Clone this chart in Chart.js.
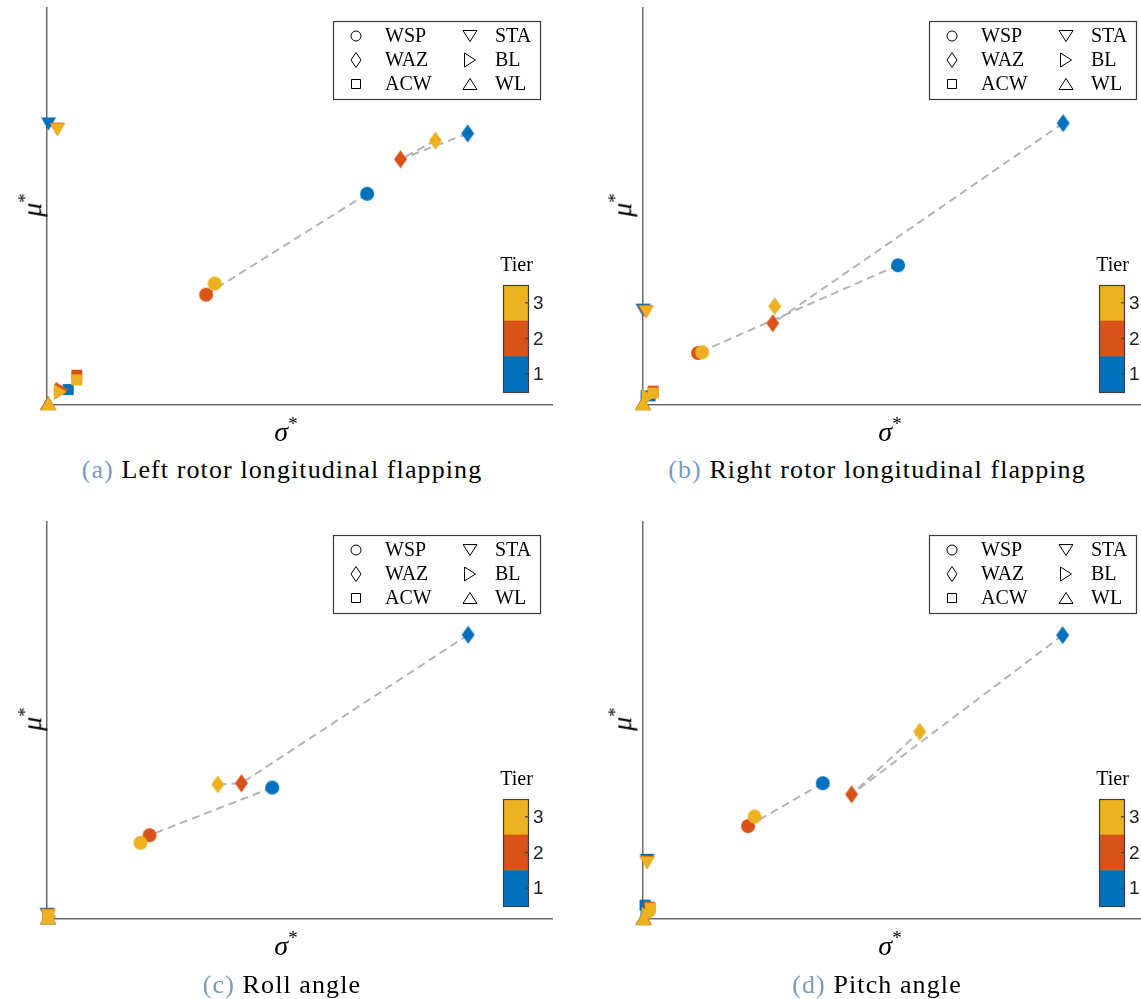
<!DOCTYPE html>
<html>
<head>
<meta charset="utf-8">
<script src="https://cdn.jsdelivr.net/npm/chart.js@4.4.1/dist/chart.umd.min.js"></script>
<style>
  html, body { margin: 0; padding: 0; background: #fff; }
  #fig { position: relative; width: 1141px; height: 999px; overflow: hidden; font-family: "Liberation Serif", serif; }
  .panel { position: absolute; width: 596px; height: 440px; }
  .caption { position: absolute; font-size: 26px; letter-spacing: 1.1px; color: #000; white-space: nowrap; transform: translate(-50%, -50%); }
  .caption .tag { color: #7a9bbb; }
  .xlab, .ylab { position: absolute; font-style: italic; font-size: 28px; white-space: nowrap; line-height: 1; }
  .xlab { transform: translate(-50%, -50%); }
  .ylab { transform: translate(-50%, -50%) rotate(-90deg); }
  .xlab sup, .ylab sup { font-style: normal; font-size: 19px; }
</style>
</head>
<body>
<div id="fig">
  <div class="panel" style="left:0;top:0"><canvas id="chartA" width="596" height="440"></canvas></div>
  <div class="panel" style="left:596px;top:0"><canvas id="chartB" width="596" height="440"></canvas></div>
  <div class="panel" style="left:0;top:514px"><canvas id="chartC" width="596" height="440"></canvas></div>
  <div class="panel" style="left:596px;top:514px"><canvas id="chartD" width="596" height="440"></canvas></div>

  <div class="ylab" style="left:31px;top:205px">μ<sup>*</sup></div>
  <div class="ylab" style="left:621px;top:205px">μ<sup>*</sup></div>
  <div class="ylab" style="left:31px;top:719px">μ<sup>*</sup></div>
  <div class="ylab" style="left:621px;top:719px">μ<sup>*</sup></div>

  <div class="xlab" style="left:286px;top:430px">σ<sup>*</sup></div>
  <div class="xlab" style="left:890px;top:430px">σ<sup>*</sup></div>
  <div class="xlab" style="left:286px;top:944px">σ<sup>*</sup></div>
  <div class="xlab" style="left:890px;top:944px">σ<sup>*</sup></div>

  <div class="caption" style="left:282px;top:470px"><span class="tag">(a)</span> Left rotor longitudinal flapping</div>
  <div class="caption" style="left:877px;top:470px"><span class="tag">(b)</span> Right rotor longitudinal flapping</div>
  <div class="caption" style="left:282px;top:985px"><span class="tag">(c)</span> Roll angle</div>
  <div class="caption" style="left:877px;top:985px"><span class="tag">(d)</span> Pitch angle</div>
</div>

<script>
// parameters and their marker shapes
const params = ['WSP', 'WAZ', 'ACW', 'STA', 'BL', 'WL'];
const shapes = ['circle', 'diamond', 'square', 'down', 'right', 'up'];
const tierLabels = ['1', '2', '3'];
const tierColors = ['#0072BD', '#D95319', '#EDB120'];

// sigma* / mu* per tier (rows = tier 1, 2, 3; columns follow params)
const leftFlapSigma = [
    [63.4, 83.3, 4.2, 0.3, 2.8, 0.2],
    [31.5, 70.0, 5.9, 2.0, 3.0, 0.2],
    [33.2, 76.9, 5.9, 2.1, 2.6, 0.3]
];
const leftFlapMu = [
    [53.2, 68.4, 3.9, 70.8, 3.5, 0.5],
    [27.8, 61.9, 7.5, 69.5, 3.8, 0.5],
    [30.6, 66.6, 6.3, 69.3, 3.3, 0.4]
];

const rightFlapSigma = [
    [50.5, 83.2, 1.4, 0.0, 0.8, 0.0],
    [10.9, 25.7, 2.0, 0.4, 1.0, 0.0],
    [11.7, 26.1, 2.0, 0.7, 1.0, 0.0]
];
const rightFlapMu = [
    [35.2, 71.0, 2.3, 23.9, 1.8, 0.5],
    [13.1, 20.6, 3.5, 23.6, 2.0, 0.5],
    [13.3, 24.9, 3.0, 23.4, 2.0, 0.4]
];

const rollSigma = [
    [44.6, 83.4, 0.3, 0.0, 0.4, 0.2],
    [20.3, 38.5, 0.3, 0.2, 0.4, 0.2],
    [18.5, 33.8, 0.3, 0.3, 0.4, 0.2]
];
const rollMu = [
    [33.1, 71.6, 0.8, 1.2, 0.6, 0.4],
    [21.1, 34.2, 0.8, 1.0, 0.6, 0.4],
    [19.2, 33.9, 0.8, 0.8, 0.6, 0.4]
];

const pitchSigma = [
    [35.6, 83.1, 0.4, 0.8, 0.8, 0.1],
    [20.8, 41.3, 1.2, 0.8, 1.0, 0.1],
    [22.1, 54.8, 1.5, 0.8, 1.0, 0.1]
];
const pitchMu = [
    [34.2, 71.5, 3.5, 14.8, 1.2, 0.3],
    [23.4, 31.4, 3.0, 14.3, 1.0, 0.2],
    [25.8, 47.2, 2.7, 14.1, 1.0, 0.2]
];

// =====================================================
// MARKERS
// =====================================================

const markerSize = { circle: [14, 14], diamond: [13, 18], square: [11, 11], down: [15, 13], right: [13, 16], up: [16, 14] };
const keySize = { circle: [10, 10], diamond: [10, 15], square: [9, 9], down: [14, 11], right: [11, 14], up: [14, 11] };

function tracePath(ctx, shape, cx, cy, w, h){
    ctx.beginPath();
    if(shape === 'circle'){
        ctx.arc(cx, cy, w / 2, 0, Math.PI * 2);
    } else if(shape === 'diamond'){
        ctx.moveTo(cx, cy - h / 2);
        ctx.lineTo(cx + w / 2, cy);
        ctx.lineTo(cx, cy + h / 2);
        ctx.lineTo(cx - w / 2, cy);
    } else if(shape === 'square'){
        ctx.rect(cx - w / 2, cy - h / 2, w, h);
    } else if(shape === 'down'){
        ctx.moveTo(cx - w / 2, cy - h / 2);
        ctx.lineTo(cx + w / 2, cy - h / 2);
        ctx.lineTo(cx, cy + h / 2);
    } else if(shape === 'right'){
        ctx.moveTo(cx - w / 2, cy - h / 2);
        ctx.lineTo(cx + w / 2, cy);
        ctx.lineTo(cx - w / 2, cy + h / 2);
    } else if(shape === 'up'){
        ctx.moveTo(cx, cy - h / 2);
        ctx.lineTo(cx + w / 2, cy + h / 2);
        ctx.lineTo(cx - w / 2, cy + h / 2);
    }
    ctx.closePath();
}

// filled marker sprite used as pointStyle
function markerSprite(shape, color){
    const [w, h] = markerSize[shape];
    const c = document.createElement('canvas');
    c.width = w + 2;
    c.height = h + 2;
    const g = c.getContext('2d');
    tracePath(g, shape, c.width / 2, c.height / 2, w, h);
    g.fillStyle = color;
    g.fill();
    return c;
}

const sprites = tierColors.map(col => shapes.map(s => markerSprite(s, col)));

// =====================================================
// PLUGINS - legend box and tier colorbar
// =====================================================

const markerKey = {
    id: 'markerKey',
    afterDraw(chart){
        const { ctx, chartArea } = chart;
        const bx = Math.round(chartArea.left + 286), by = Math.round(chartArea.top + 13);
        const bw = 207, bh = 78;
        ctx.save();
        ctx.fillStyle = '#fff';
        ctx.fillRect(bx, by, bw, bh);
        ctx.strokeStyle = '#3a3a3a';
        ctx.lineWidth = 1.2;
        ctx.strokeRect(bx + 0.5, by + 0.5, bw, bh);
        ctx.font = '20px "Liberation Serif"';
        ctx.textBaseline = 'middle';
        params.forEach((p, i) => {
            const col = Math.floor(i / 3), row = i % 3;
            const cy = by + 15 + row * 24;
            const [w, h] = keySize[shapes[i]];
            tracePath(ctx, shapes[i], bx + (col ? 137 : 23), cy, w, h);
            ctx.strokeStyle = '#000';
            ctx.lineWidth = 1;
            ctx.stroke();
            ctx.fillStyle = '#000';
            ctx.fillText(p, bx + (col ? 162 : 52), cy + 1);
        });
        ctx.restore();
    }
};

const tierBar = {
    id: 'tierBar',
    afterDraw(chart){
        const { ctx, chartArea } = chart;
        const x = Math.round(chartArea.left + 456), y = Math.round(chartArea.top + 277);
        const w = 25, h = 107, seg = h / 3;
        ctx.save();
        for(let t = 0; t < 3; t++){
            ctx.fillStyle = tierColors[2 - t];
            ctx.fillRect(x, y + t * seg, w, seg + 0.5);
        }
        ctx.strokeStyle = '#404040';
        ctx.lineWidth = 1.2;
        ctx.strokeRect(x + 0.5, y + 0.5, w, h);
        ctx.font = '19px "Liberation Sans"';
        ctx.textBaseline = 'middle';
        ctx.fillStyle = '#222';
        for(let t = 0; t < 3; t++){
            const cy = y + (t + 0.5) * seg;
            ctx.beginPath();
            ctx.moveTo(x + w, cy);
            ctx.lineTo(x + w - 3, cy);
            ctx.stroke();
            ctx.fillText(tierLabels[2 - t], x + w + 5, cy + 1);
        }
        ctx.font = '20px "Liberation Serif"';
        ctx.textAlign = 'center';
        ctx.fillStyle = '#000';
        ctx.fillText('Tier', x + w / 2 + 1, y - 19);
        ctx.restore();
    }
};

// =====================================================
// CHARTS
// =====================================================

const axisColor = '#6a6a6a';

function axisOpts(){
    return {
        type: 'linear',
        min: 0,
        max: 100,
        grid: { display: false, drawTicks: false },
        ticks: { display: false },
        border: { display: true, color: axisColor, width: 1.5 }
    };
}

function criarPainel(id, sigma, mu){

    const datasets = [];

    // dashed links tier 1 -> 2 -> 3 for each parameter
    params.forEach((p, j) => {
        datasets.push({
            label: p,
            data: [0, 1, 2].map(t => ({ x: sigma[t][j], y: mu[t][j] })),
            showLine: true,
            borderColor: '#b4b4b4',
            borderWidth: 2,
            borderDash: [8, 5],
            pointRadius: 0,
            clip: false,
            order: 4
        });
    });

    // one scatter set per tier, tier 3 on top
    [0, 1, 2].forEach(t => {
        datasets.push({
            label: 'Tier ' + tierLabels[t],
            data: params.map((p, j) => ({ x: sigma[t][j], y: mu[t][j] })),
            pointStyle: sprites[t],
            pointRadius: 7,
            backgroundColor: tierColors[t],
            borderColor: tierColors[t],
            showLine: false,
            clip: false,
            order: 3 - t
        });
    });

    new Chart(document.getElementById(id), {
        type: 'scatter',
        data: { datasets: datasets },
        options: {
            responsive: false,
            animation: false,
            events: [],
            layout: { padding: { left: 47, top: 7, right: 44, bottom: 35 } },
            plugins: {
                legend: { display: false },
                tooltip: { enabled: false }
            },
            scales: { x: axisOpts(), y: axisOpts() }
        },
        plugins: [markerKey, tierBar]
    });
}

criarPainel('chartA', leftFlapSigma, leftFlapMu);
criarPainel('chartB', rightFlapSigma, rightFlapMu);
criarPainel('chartC', rollSigma, rollMu);
criarPainel('chartD', pitchSigma, pitchMu);
</script>
</body>
</html>
